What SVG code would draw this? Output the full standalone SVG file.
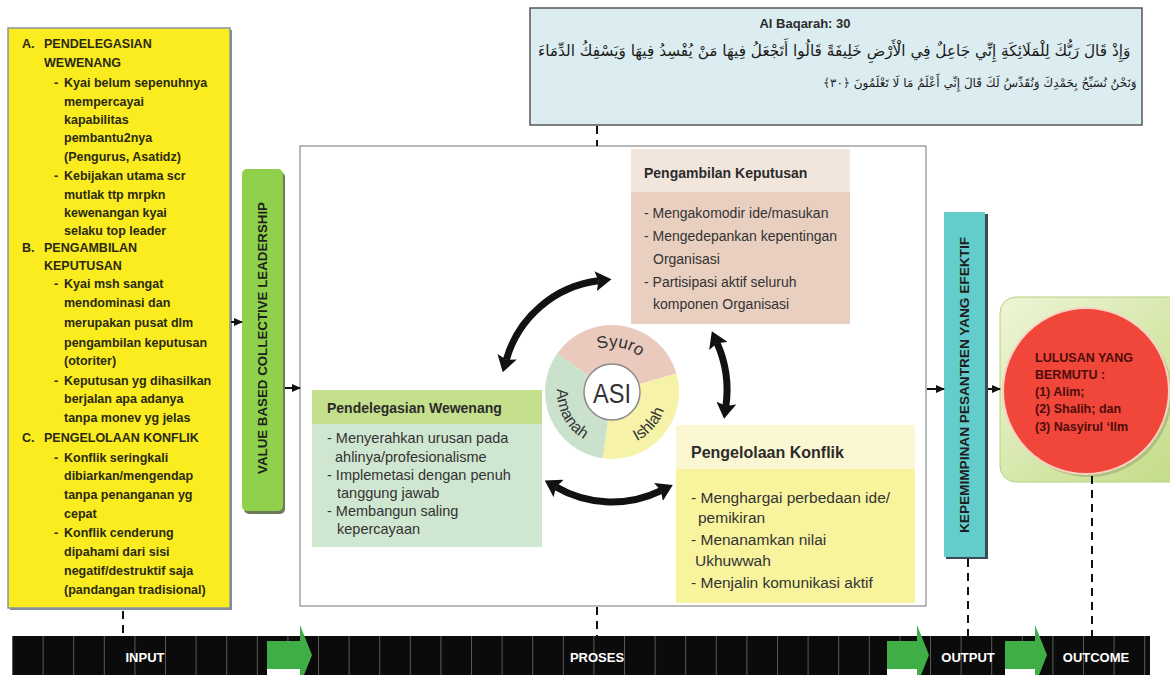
<svg xmlns="http://www.w3.org/2000/svg" width="1170" height="675" viewBox="0 0 1170 675">
<defs>
<style>
.yt{font-family:"Liberation Sans",Arial,sans-serif;font-weight:bold;font-size:12.5px;fill:#2a2a12}
.hd{font-family:"Liberation Sans",Arial,sans-serif;font-weight:bold;fill:#2b2b2b}
.bd{font-family:"Liberation Sans",Arial,sans-serif;fill:#333}
.lbl{font-family:"Liberation Sans",Arial,sans-serif;font-weight:bold;font-size:13px;fill:#fff}
.vt{font-family:"Liberation Sans",Arial,sans-serif;font-weight:bold;font-size:12.5px;fill:#1e1e1e}
.pie{font-family:"Liberation Sans",Arial,sans-serif;fill:#333}
.dash{stroke:#111;stroke-width:2;stroke-dasharray:8 6;fill:none}
.ar{font-family:"DejaVu Sans",sans-serif;fill:#1a1a1a}
</style>
<marker id="sm" markerUnits="userSpaceOnUse" markerWidth="9" markerHeight="8" refX="8" refY="4" orient="auto"><path d="M0,0 L9,4 L0,8 z" fill="#111"/></marker>
<marker id="big" markerUnits="userSpaceOnUse" markerWidth="16" markerHeight="20" refX="3" refY="10" orient="auto-start-reverse"><path d="M0,0 L16,10 L0,20 L3,10 z" fill="#111"/></marker>
<pattern id="grid" patternUnits="userSpaceOnUse" x="12" y="636" width="30.6" height="40"><line x1="0.5" y1="0" x2="0.5" y2="40" stroke="#5a5a5a" stroke-width="1"/></pattern>
<linearGradient id="og" x1="0" y1="0" x2="1" y2="1"><stop offset="0" stop-color="#eef5d6"/><stop offset="1" stop-color="#c2dc86"/></linearGradient>
<path id="pSy" d="M583.1,357.5 A45,45 0 0 1 650.97,369.5"/>
<path id="pIs" d="M615.8,446.9 A55,55 0 0 0 666.9,388.2"/>
<path id="pAm" d="M560.3,373.2 A55,55 0 0 0 598.7,445.4"/>
</defs>
<rect width="1170" height="675" fill="#fff"/>

<!-- bottom bar -->
<g id="timeline">
<rect x="12" y="636" width="1138" height="39" fill="#0b0b0b"/>
<rect x="12" y="636" width="1138" height="39" fill="url(#grid)"/>
<polygon points="267,641 300,641 300,625 312,655 300,685 300,669 267,669" fill="#3fae46"/>
<rect x="267" y="669" width="33" height="6" fill="#fff"/>
<polygon points="887,641 917,641 917,625 929,655 917,685 917,669 887,669" fill="#3fae46"/>
<rect x="887" y="669" width="30" height="6" fill="#fff"/>
<polygon points="1005,641 1035,641 1035,625 1047,655 1035,685 1035,669 1005,669" fill="#3fae46"/>
<rect x="1005" y="669" width="30" height="6" fill="#fff"/>
<text class="lbl" x="145" y="662" text-anchor="middle">INPUT</text>
<text class="lbl" x="597" y="662" text-anchor="middle">PROSES</text>
<text class="lbl" x="968" y="662" text-anchor="middle">OUTPUT</text>
<text class="lbl" x="1096" y="662" text-anchor="middle">OUTCOME</text>
</g>

<!-- input yellow box -->
<g id="input">
<rect x="10" y="30" width="222" height="580" fill="#7f8b99"/>
<rect x="8" y="28" width="222" height="580" fill="#fbec1f" stroke="#8a94a3" stroke-width="1.5"/>
<g class="yt">
<text x="22" y="47.5">A.</text><text x="44" y="47.5">PENDELEGASIAN</text>
<text x="44" y="67">WEWENANG</text>
<text x="54" y="87">-</text><text x="64" y="87">Kyai belum sepenuhnya</text>
<text x="64" y="105.5">mempercayai</text>
<text x="64" y="123.5">kapabilitas</text>
<text x="64" y="141.5">pembantu2nya</text>
<text x="64" y="161">(Pengurus, Asatidz)</text>
<text x="54" y="180">-</text><text x="64" y="180">Kebijakan utama scr</text>
<text x="64" y="198.5">mutlak ttp mrpkn</text>
<text x="64" y="217">kewenangan kyai</text>
<text x="64" y="234.5">selaku top leader</text>
<text x="22" y="252">B.</text><text x="44" y="252">PENGAMBILAN</text>
<text x="44" y="270">KEPUTUSAN</text>
<text x="54" y="288">-</text><text x="64" y="288">Kyai msh sangat</text>
<text x="64" y="307">mendominasi dan</text>
<text x="64" y="327">merupakan pusat dlm</text>
<text x="64" y="347">pengambilan keputusan</text>
<text x="64" y="364.5">(otoriter)</text>
<text x="54" y="384.5">-</text><text x="64" y="384.5">Keputusan yg dihasilkan</text>
<text x="64" y="402.5">berjalan apa adanya</text>
<text x="64" y="422">tanpa monev yg jelas</text>
<text x="22" y="441.5">C.</text><text x="44" y="441.5">PENGELOLAAN KONFLIK</text>
<text x="54" y="461.5">-</text><text x="64" y="461.5">Konflik seringkali</text>
<text x="64" y="479.5">dibiarkan/mengendap</text>
<text x="64" y="498.5">tanpa penanganan yg</text>
<text x="64" y="517.5">cepat</text>
<text x="54" y="536.5">-</text><text x="64" y="536.5">Konflik cenderung</text>
<text x="64" y="555.5">dipahami dari sisi</text>
<text x="64" y="574.5">negatif/destruktif saja</text>
<text x="64" y="593.5">(pandangan tradisional)</text>
</g>
</g>

<!-- VBCL -->
<g id="vbcl">
<rect x="244" y="172" width="41" height="342" rx="5" fill="#6c7a5c"/>
<rect x="242" y="169" width="41" height="342" rx="5" fill="#8fd14a"/>
<text class="vt" transform="translate(267,338) rotate(-90)" text-anchor="middle" textLength="272" lengthAdjust="spacingAndGlyphs">VALUE BASED COLLECTIVE LEADERSHIP</text>
</g>

<!-- Arabic box -->
<g id="quran">
<rect x="530" y="8" width="612" height="117" fill="#dcedf1" stroke="#555" stroke-width="1.5"/>
<text x="805" y="28" text-anchor="middle" class="hd" style="font-size:13px">Al Baqarah: 30</text>
<text class="ar" x="538" y="56" style="font-size:15.3px">وَإِذْ قَالَ رَبُّكَ لِلْمَلَائِكَةِ إِنِّي جَاعِلٌ فِي الْأَرْضِ خَلِيفَةً قَالُوا أَتَجْعَلُ فِيهَا مَنْ يُفْسِدُ فِيهَا وَيَسْفِكُ الدِّمَاءَ</text>
<text class="ar" x="823" y="87" style="font-size:12px">وَنَحْنُ نُسَبِّحُ بِحَمْدِكَ وَنُقَدِّسُ لَكَ قَالَ إِنِّي أَعْلَمُ مَا لَا تَعْلَمُونَ ﴿٣٠﴾&#x200F;</text>
</g>

<!-- process container -->
<g id="proses">
<rect x="300" y="146" width="626" height="460" fill="#fff" stroke="#8a8a8a" stroke-width="1.2"/>
</g>

<!-- Pengambilan Keputusan -->
<g id="pengambilan">
<rect x="631" y="149" width="219" height="175" fill="#e9cfc0"/>
<rect x="631" y="149" width="219" height="43" fill="#f1e5dc"/>
<text class="hd" x="644" y="178" style="font-size:14px">Pengambilan Keputusan</text>
<g class="bd" style="font-size:14px">
<text x="644" y="218">- Mengakomodir ide/masukan</text>
<text x="644" y="241">- Mengedepankan kepentingan</text>
<text x="653" y="264">Organisasi</text>
<text x="644" y="287">- Partisipasi aktif seluruh</text>
<text x="653" y="309">komponen Organisasi</text>
</g>
</g>

<!-- Pendelegasian Wewenang -->
<g id="pendelegasian">
<rect x="312" y="390" width="230" height="157" fill="#cfe6d0"/>
<rect x="312" y="390" width="230" height="34" fill="#c4e08c"/>
<text class="hd" x="327" y="413" style="font-size:14px">Pendelegasian Wewenang</text>
<g class="bd" style="font-size:14.5px">
<text x="327" y="443">- Menyerahkan urusan pada</text>
<text x="335" y="462">ahlinya/profesionalisme</text>
<text x="327" y="480">- Implemetasi dengan penuh</text>
<text x="337" y="498">tanggung jawab</text>
<text x="327" y="516">- Membangun saling</text>
<text x="337" y="534">kepercayaan</text>
</g>
</g>

<!-- Pengelolaan Konflik -->
<g id="pengelolaan">
<rect x="676" y="425" width="239" height="178" fill="#f8f39d"/>
<rect x="676" y="425" width="239" height="44" fill="#fbf7d2"/>
<text class="hd" x="691" y="458" style="font-size:16px">Pengelolaan Konflik</text>
<g class="bd" style="font-size:15.5px">
<text x="691" y="503">- Menghargai perbedaan ide/</text>
<text x="698" y="523">pemikiran</text>
<text x="691" y="545">- Menanamkan nilai</text>
<text x="695" y="566">Ukhuwwah</text>
<text x="691" y="588">- Menjalin komunikasi aktif</text>
</g>
</g>

<!-- ASI circle -->
<g id="asi">
<path d="M612,392 L557.1,353.6 A67,67 0 0 1 676.4,373.5 Z" fill="#e9cabd"/>
<path d="M612,392 L676.4,373.5 A67,67 0 0 1 602.7,458.3 Z" fill="#f6f2a8"/>
<path d="M612,392 L602.7,458.3 A67,67 0 0 1 557.1,353.6 Z" fill="#cae2cc"/>
<circle cx="612" cy="392" r="28" fill="#fff" stroke="#8a8a8a" stroke-width="1.5"/>
<text x="612" y="403" text-anchor="middle" class="pie" style="font-size:27px" textLength="38" lengthAdjust="spacingAndGlyphs">ASI</text>
<text class="pie" style="font-size:17px"><textPath href="#pSy" startOffset="50%" text-anchor="middle">Syuro</textPath></text>
<text class="pie" style="font-size:16px"><textPath href="#pIs" startOffset="50%" text-anchor="middle">Ishlah</textPath></text>
<text class="pie" style="font-size:16px"><textPath href="#pAm" startOffset="50%" text-anchor="middle">Amanah</textPath></text>
</g>

<!-- output cyan -->
<g id="output">
<rect x="946" y="214" width="42" height="345" fill="#3d4a55"/>
<rect x="944" y="212" width="41" height="345" fill="#63cdcb"/>
<text class="vt" transform="translate(969,385) rotate(-90)" text-anchor="middle" textLength="296" lengthAdjust="spacingAndGlyphs">KEPEMIMPINAN PESANTREN YANG EFEKTIF</text>
</g>

<!-- outcome -->
<g id="outcome">
<rect x="1000" y="297" width="185" height="185" rx="16" fill="url(#og)" stroke="#b5cf7e" stroke-width="1"/>
<circle cx="1089" cy="394" r="83" fill="#8a9a60" opacity="0.45"/>
<circle cx="1086" cy="391" r="83" fill="#f0473a" stroke="#f7d3c4" stroke-width="2"/>
<g class="hd" style="font-size:12.5px;fill:#4e0c0c">
<text x="1035" y="362">LULUSAN YANG</text>
<text x="1035" y="379">BERMUTU :</text>
<text x="1035" y="396">(1) Alim;</text>
<text x="1035" y="413">(2) Shalih; dan</text>
<text x="1035" y="431">(3) Nasyirul ‘Ilm</text>
</g>
</g>

<!-- connectors -->
<g id="connectors">
<line x1="231" y1="322" x2="242" y2="322" stroke="#111" stroke-width="2" marker-end="url(#sm)"/>
<line x1="285" y1="388" x2="300" y2="388" stroke="#111" stroke-width="2" marker-end="url(#sm)"/>
<line x1="927" y1="389" x2="944" y2="389" stroke="#111" stroke-width="2" marker-end="url(#sm)"/>
<line x1="988" y1="389" x2="1000" y2="389" stroke="#111" stroke-width="2" marker-end="url(#sm)"/>
<line class="dash" x1="123" y1="611" x2="123" y2="636"/>
<line class="dash" x1="597" y1="607" x2="597" y2="636"/>
<line class="dash" x1="597" y1="126" x2="597" y2="146"/>
<line class="dash" x1="968" y1="559" x2="968" y2="636"/>
<line class="dash" x1="1092" y1="476" x2="1092" y2="636"/>
<path d="M506.3,359.7 A110,110 0 0 1 598.6,280.8" fill="none" stroke="#111" stroke-width="7" marker-start="url(#big)" marker-end="url(#big)"/>
<path d="M717.1,343.2 A115,115 0 0 1 725.9,406.0" fill="none" stroke="#111" stroke-width="7" marker-start="url(#big)" marker-end="url(#big)"/>
<path d="M556,487 A112,112 0 0 0 661.1,490.7" fill="none" stroke="#111" stroke-width="7" marker-start="url(#big)" marker-end="url(#big)"/>
</g>
</svg>
